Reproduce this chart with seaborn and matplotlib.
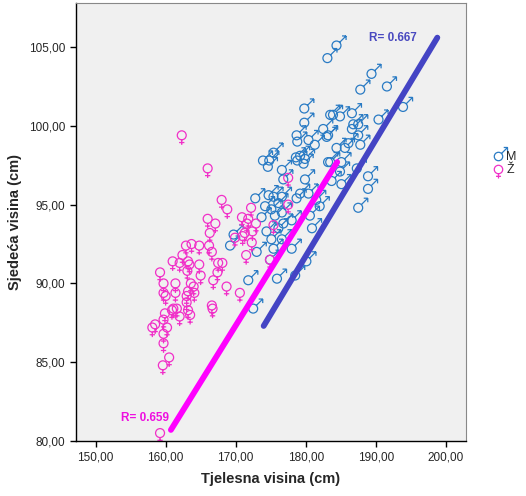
import seaborn as sns
import matplotlib.pyplot as plt
import pandas as pd
from matplotlib.lines import Line2D
from matplotlib.path import Path
from matplotlib.ticker import FuncFormatter

# zenske (Ž): tjelesna visina, sjedeca visina
z_tv = [162.3, 166.0, 168.0, 168.8, 166.0, 167.1, 166.3, 170.9, 171.3, 162.9,
        163.7, 164.8, 166.2, 166.6, 162.4, 161.0, 162.0, 163.2, 163.4, 164.8,
        167.5, 168.1, 163.1, 159.2, 167.4, 165.0, 159.7, 161.4, 163.6, 164.0,
        166.8, 168.7, 170.6, 159.7, 160.0, 161.4, 163.2, 164.1, 163.0, 163.0,
        166.6, 166.7, 161.1, 160.9, 161.6, 162.0, 163.2, 163.5, 159.9, 159.7,
        158.5, 158.1, 160.2, 159.7, 159.7, 160.5, 159.6, 159.2, 171.5, 177.5,
        172.2, 171.8, 172.9, 171.6, 172.4, 169.9, 171.0, 172.3, 175.4, 177.5,
        174.9]
z_sv = [99.4, 97.3, 95.3, 94.7, 94.1, 93.8, 93.2, 94.2, 93.2, 92.4,
        92.5, 92.4, 92.4, 92.0, 91.8, 91.4, 91.3, 91.4, 91.2, 91.2,
        91.3, 91.3, 90.8, 90.7, 90.7, 90.5, 90.0, 90.0, 90.0, 89.8,
        90.2, 89.8, 89.4, 89.4, 89.2, 89.4, 89.5, 89.4, 89.2, 88.8,
        88.6, 88.4, 88.4, 88.3, 88.4, 87.9, 88.3, 88.0, 88.1, 87.7,
        87.4, 87.2, 87.2, 86.8, 86.2, 85.3, 84.8, 80.5, 91.8, 96.7,
        94.8, 94.1, 93.8, 93.8, 93.3, 92.9, 93.0, 92.6, 93.7, 95.0,
        91.5]

# muski (M)
m_tv = [179.8, 183.5, 179.8, 182.5, 178.7, 183.0, 178.8, 180.4, 181.3, 175.4,
        173.9, 174.8, 174.6, 178.6, 179.2, 178.8, 179.9, 179.7, 176.6, 183.2,
        176.8, 179.9, 179.2, 180.4, 178.7, 174.7, 175.4, 172.8, 176.6, 182.0,
        176.1, 174.2, 175.1, 176.6, 173.7, 175.6, 178.0, 176.8, 180.6, 174.4,
        176.1, 169.7, 175.1, 176.6, 169.2, 173.0, 175.4, 178.0, 180.1, 171.8,
        175.9, 178.5, 172.5, 184.4, 183.1, 189.4, 187.8, 191.6, 193.9, 183.9,
        184.9, 186.6, 186.8, 187.5, 186.6, 190.4, 183.2, 187.5, 184.4, 185.6,
        186.1, 187.8, 183.5, 185.1, 184.9, 187.3, 183.7, 185.1, 188.9, 188.9,
        187.5, 174.9, 180.9, 181.5]
m_sv = [101.1, 100.7, 100.2, 99.8, 99.4, 99.3, 99.0, 99.1, 98.8, 98.3,
        97.8, 97.8, 97.4, 98.0, 98.1, 97.8, 97.9, 97.6, 97.2, 97.7,
        96.6, 96.6, 95.7, 95.7, 95.4, 95.6, 95.5, 95.4, 95.5, 94.9,
        95.1, 94.9, 94.7, 94.5, 94.2, 94.3, 94.0, 93.8, 94.3, 93.3,
        93.5, 93.1, 92.8, 92.8, 92.4, 92.0, 92.2, 92.2, 91.4, 90.2,
        90.3, 90.5, 88.4, 105.1, 104.3, 103.3, 102.3, 102.5, 101.2, 100.7,
        100.6, 100.8, 100.1, 100.1, 99.8, 100.4, 99.4, 99.4, 98.6, 98.6,
        98.9, 98.8, 97.7, 97.7, 97.1, 97.3, 96.5, 96.3, 96.8, 96.0,
        94.8, 91.5, 93.5, 95.3]

# fit linije (SPSS)
fit_m_x = [174.0, 198.8]
fit_m_y = [87.3, 105.6]
fit_z_x = [160.75, 184.5]
fit_z_y = [80.7, 97.7]
r_m = "R= 0.667"
r_z = "R= 0.659"

df = pd.DataFrame({
    "tv": m_tv + z_tv,
    "sv": m_sv + z_sv,
    "spol": ["M"] * len(m_tv) + ["Ž"] * len(z_tv),
})


def seg(a, b):
    return Path([a, b], [Path.MOVETO, Path.LINETO])


# znakovi kao putanje (krug + strelica / krst)
znak_m = Path.make_compound_path(
    Path.circle((0, 0), 0.42),
    seg((0.30, 0.30), (0.9, 0.9)),
    seg((0.9, 0.9), (0.52, 0.9)),
    seg((0.9, 0.9), (0.9, 0.52)))
znak_z = Path.make_compound_path(
    Path.circle((0, 0), 0.42),
    seg((0, -0.42), (0, -0.9)),
    seg((-0.25, -0.68), (0.25, -0.68)))

sns.set_theme(style="white")
plt.rcParams['font.family'] = ['Liberation Sans', 'DejaVu Sans']

boja_m = "#2a7bc4"
boja_z = "#f030c8"

fig = plt.figure(figsize=(5.26, 4.96), dpi=100)
ax = fig.add_axes([0.1445, 0.111, 0.7415, 0.883])
ax.set_facecolor("#f0f0f0")

sns.scatterplot(data=df, x="tv", y="sv", hue="spol", style="spol",
                markers={"M": znak_m, "Ž": znak_z},
                palette={"M": boja_m, "Ž": boja_z},
                s=190, linewidth=0.9, legend=False, ax=ax)
tocke = ax.collections[0]
tocke.set_edgecolors(tocke.get_facecolors())
tocke.set_facecolors("none")

ax.plot(fit_m_x, fit_m_y, color="#4444c4", linewidth=4.2, solid_capstyle="round")
ax.plot(fit_z_x, fit_z_y, color="#ff00ff", linewidth=4.2, solid_capstyle="round")

ax.text(192.4, 105.6, r_m, color="#4a4ac0", fontsize=8.5, fontweight="bold",
        ha="center", va="center")
ax.text(157.1, 81.45, r_z, color="#ee10e0", fontsize=8.5, fontweight="bold",
        ha="center", va="center")

ax.set_xlim(147.2, 202.9)
ax.set_ylim(80, 107.8)
ax.set_xticks([150, 160, 170, 180, 190, 200])
ax.set_yticks([80, 85, 90, 95, 100, 105])
fmt = FuncFormatter(lambda v, p: f"{v:.2f}".replace(".", ","))
ax.xaxis.set_major_formatter(fmt)
ax.yaxis.set_major_formatter(fmt)
ax.tick_params(axis="both", which="major", direction="out", length=4, width=1,
               labelsize=8.5, color="black", bottom=True, left=True)
for s in ["left", "bottom"]:
    ax.spines[s].set_color("black")
    ax.spines[s].set_linewidth(1)
for s in ["top", "right"]:
    ax.spines[s].set_color("#888888")
    ax.spines[s].set_linewidth(0.8)

ax.set_xlabel("Tjelesna visina (cm)", fontsize=10.5, fontweight="bold", labelpad=6)
ax.set_ylabel("Sjedeća visina (cm)", fontsize=10.5, fontweight="bold", labelpad=5)

handles = [Line2D([], [], linestyle="none", marker=znak_m, markerfacecolor="none",
                  markeredgecolor=boja_m, markeredgewidth=0.9, markersize=13),
           Line2D([], [], linestyle="none", marker=znak_z, markerfacecolor="none",
                  markeredgecolor=boja_z, markeredgewidth=0.9, markersize=13)]
fig.legend(handles, ["M", "Ž"], loc="center left", bbox_to_anchor=(0.92, 0.67),
           frameon=False, fontsize=9, handletextpad=0.0, labelspacing=0.05,
           handlelength=1.3, borderpad=0)

plt.savefig("out.png", dpi=100)
